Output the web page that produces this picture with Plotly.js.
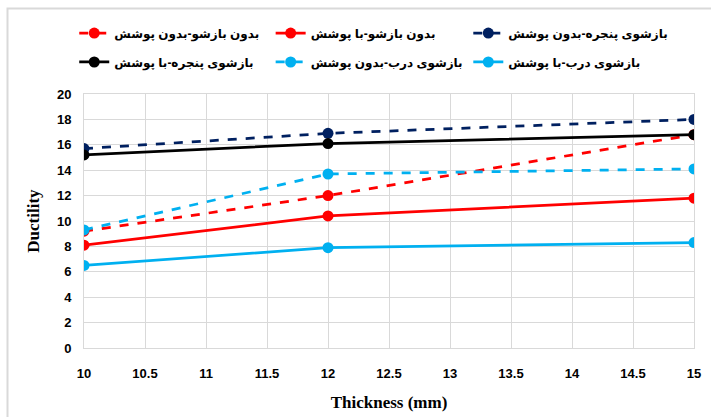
<!DOCTYPE html>
<html>
<head>
<meta charset="utf-8">
<script src="https://cdn.plot.ly/plotly-3.0.1.min.js"></script>
<style>html,body{margin:0;padding:0;background:#fff;}#chart{width:711px;height:417px;}</style>
</head>
<body>
<div id="chart"></div>
<script>
const thickness = [10, 12, 15];
const seriesNames = [
  "بدون بازشو-بدون پوشش",
  "بدون بازشو-با پوشش",
  "بازشوی پنجره-بدون پوشش",
  "بازشوی پنجره-با پوشش",
  "بازشوی درب-بدون پوشش",
  "بازشوی درب-با پوشش"
];
const noOpeningNoCover = [9.2, 12.0, 16.8];
const noOpeningCover = [8.1, 10.4, 11.8];
const windowNoCover = [15.7, 16.9, 18.0];
const windowCover = [15.2, 16.1, 16.8];
const doorNoCover = [9.3, 13.7, 14.1];
const doorCover = [6.5, 7.9, 8.3];
const xTicks = [10, 10.5, 11, 11.5, 12, 12.5, 13, 13.5, 14, 14.5, 15];
const yTicks = [0, 2, 4, 6, 8, 10, 12, 14, 16, 18, 20];

const values = [noOpeningNoCover, noOpeningCover, windowNoCover, windowCover, doorNoCover, doorCover];
const colors = ["#FF0000", "#FF0000", "#002060", "#000000", "#00B0F0", "#00B0F0"];
const dashes = ["dash", "solid", "dash", "solid", "dash", "solid"];
const legendIds = ["legend", "legend2", "legend3", "legend4", "legend5", "legend6"];

const traces = values.map((v, i) => ({
  x: thickness, y: v, name: seriesNames[i], type: "scatter", mode: "lines+markers",
  line: {color: colors[i], width: 2.75, dash: dashes[i]},
  marker: {color: colors[i], size: 11},
  legend: legendIds[i]
}));

const legFont = {family: "Liberation Sans, DejaVu Sans, sans-serif", size: 12, color: "#000", weight: "bold"};
const tickFont = {family: "Liberation Sans, Arial, sans-serif", size: 13, color: "#000", weight: "bold"};
const titleFont = {family: "Liberation Serif, Times New Roman, serif", size: 17, color: "#000", weight: "bold"};

const colX = [-0.016, 0.306, 0.630];
const rowY = [1.240, 1.126];

const layout = {
  width: 711, height: 417,
  margin: {l: 84, r: 17, t: 94, b: 69},
  paper_bgcolor: "#fff", plot_bgcolor: "#fff",
  showlegend: true,
  xaxis: {
    range: [10, 15], tickvals: xTicks, ticktext: xTicks.map(String),
    showgrid: true, gridcolor: "#d9d9d9", gridwidth: 1, zeroline: false,
    showline: true, linecolor: "#d9d9d9", linewidth: 1, mirror: true,
    ticks: "", tickfont: tickFont, ticklabelstandoff: 13,
    title: {text: "Thickness (mm)", font: titleFont, standoff: 16}
  },
  yaxis: {
    range: [0, 20], tickvals: yTicks, ticktext: yTicks.map(String),
    showgrid: true, gridcolor: "#d9d9d9", gridwidth: 1, zeroline: false,
    showline: true, linecolor: "#d9d9d9", linewidth: 1, mirror: true,
    ticks: "", tickfont: tickFont, ticklabelstandoff: 9,
    title: {text: "Ductility", font: titleFont, standoff: 12}
  },
  shapes: [{type: "rect", xref: "paper", yref: "paper",
    x0: -0.1254, x1: 1.05, y0: -0.33, y1: 1.3366,
    line: {color: "#d9d9d9", width: 2}, layer: "below"}]
};
legendIds.forEach((id, i) => {
  layout[id] = {x: colX[i % 3], xanchor: "left", y: rowY[Math.floor(i / 3)], yanchor: "middle",
    font: legFont, bgcolor: "rgba(0,0,0,0)", orientation: "v"};
});

Plotly.newPlot("chart", traces, layout, {displayModeBar: false, staticPlot: true});
</script>
</body>
</html>
